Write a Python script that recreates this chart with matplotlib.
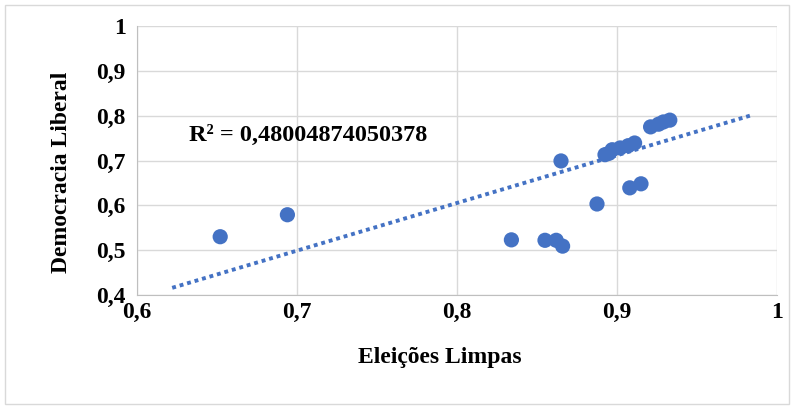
import matplotlib
matplotlib.use("Agg")
import matplotlib.pyplot as plt
import numpy as np
from matplotlib.patches import Rectangle

eleicoes_limpas = [0.652, 0.694, 0.834, 0.855, 0.862, 0.866, 0.865, 0.8875,
                   0.908, 0.915, 0.8925, 0.897, 0.902, 0.907, 0.911, 0.895,
                   0.921, 0.926, 0.929, 0.933]
democracia_liberal = [0.530, 0.579, 0.523, 0.522, 0.522, 0.509, 0.699, 0.603,
                      0.639, 0.648, 0.713, 0.724, 0.728, 0.733, 0.739, 0.716,
                      0.775, 0.781, 0.786, 0.790]
x_ticks = [0.6, 0.7, 0.8, 0.9, 1.0]
y_ticks = [0.4, 0.5, 0.6, 0.7, 0.8, 0.9, 1.0]
trend_x = [0.622, 0.985]
trend_y = [0.416, 0.802]
r2_text = "R² = 0,48004874050378"

blue = "#4472C4"
W, H = 794, 409
fig = plt.figure(figsize=(W/100, H/100), dpi=100)
ax = fig.add_axes([137/W, 1-295/H, (777-137)/W, (295-26)/H])

fig.patches.append(Rectangle((5/W, 5/H), (789-5)/W, (404-5)/H, transform=fig.transFigure,
                             fill=False, edgecolor="#d9d9d9", lw=1))

ax.set_xlim(0.6, 1.0)
ax.set_ylim(0.4, 1.0)
ax.set_xticks(x_ticks)
ax.set_yticks(y_ticks)
fmt = lambda v: ("%g" % v).replace(".", ",")
font = dict(family="Liberation Serif", weight="bold", size=17)
ax.set_xticklabels([fmt(v) for v in x_ticks], **font)
ax.set_yticklabels([fmt(v) for v in y_ticks], **font)
ax.tick_params(axis="x", length=0, pad=5)
ax.tick_params(axis="y", length=0, pad=8)
ax.grid(True, color="#d9d9d9", lw=1)
ax.set_axisbelow(True)
for s in ["top", "right"]:
    ax.spines[s].set_visible(False)
for s in ["left", "bottom"]:
    ax.spines[s].set_color("#bfbfbf")

x = np.array(eleicoes_limpas)
y = np.array(democracia_liberal)
ax.scatter(x, y, s=120, color=blue, zorder=3, edgecolors="none")
ax.plot(trend_x, trend_y, color=blue, lw=2.8, linestyle=(0, (1, 1)), zorder=4)

ax.text(0.6325, 0.755, r2_text, ha="left", va="center", fontsize=17.5,
        family="Liberation Serif", weight="bold")
ax.set_xlabel("Eleições Limpas", **font)
ax.set_ylabel("Democracia Liberal", **font)
ax.xaxis.set_label_coords((440-137)/640, (295-347)/269)
ax.yaxis.set_label_coords((72-137)/640, (295-172)/269)

fig.savefig("out.png", dpi=100)
